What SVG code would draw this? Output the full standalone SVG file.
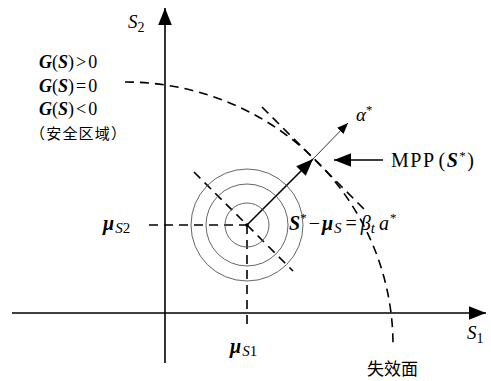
<svg xmlns="http://www.w3.org/2000/svg" width="491" height="381" viewBox="0 0 491 381">
<style>
.ax{stroke:#000;stroke-width:1.6;fill:none}
.dash{stroke:#000;stroke-width:1.6;fill:none;stroke-dasharray:9,6}
.thin{stroke:#555;stroke-width:0.9;fill:none}
.t{font-family:"Liberation Serif",serif;font-size:18px;fill:#000}
.i{font-style:italic}
.b{font-weight:bold;font-style:italic}
.cjk{font-family:"Liberation Serif","Noto Sans CJK SC",serif;font-size:15px;fill:#000}
</style>
<defs>
<marker id="ah" viewBox="0 0 10 10" refX="10" refY="5" markerWidth="11" markerHeight="11" markerUnits="userSpaceOnUse" orient="auto">
<path d="M0,1 L10,5 L0,9 Z" fill="#000"/>
</marker>
<marker id="ahL" viewBox="0 0 10 10" refX="10" refY="5" markerWidth="17" markerHeight="17" markerUnits="userSpaceOnUse" orient="auto">
<path d="M0,1 L10,5 L0,9 Z" fill="#000"/>
</marker>
</defs>
<g id="connectors">
<line id="s2-axis" class="ax" x1="165" y1="363" x2="165" y2="8" marker-end="url(#ahL)"/>
<line id="s1-axis" class="ax" x1="12" y1="313" x2="486" y2="313" marker-end="url(#ahL)"/>
<path id="limit" class="dash" d="M125,82 A268,263 0 0 1 393,348"/>
<line id="tangent" class="dash" x1="262" y1="107" x2="365" y2="210"/>
<line id="diag" class="dash" x1="194" y1="172" x2="293" y2="271"/>
<line id="h-mu" class="dash" x1="149" y1="225" x2="247" y2="225"/>
<line id="v-mu" class="dash" x1="247" y1="225" x2="247" y2="326"/>
<line id="beta" class="ax" x1="247" y1="225" x2="313" y2="159" marker-end="url(#ahL)"/>
<line id="alpha" stroke="#000" stroke-width="0.8" x1="313" y1="159" x2="348" y2="123" marker-end="url(#ah)"/>
<line id="mpp-arrow" class="ax" x1="383" y1="160" x2="334" y2="160" marker-end="url(#ahL)"/>
</g>
<g id="pdf">
<circle class="thin" cx="247" cy="225" r="22"/>
<circle class="thin" cx="247" cy="225" r="41"/>
<circle class="thin" cx="247" cy="225" r="56"/>
<circle cx="247" cy="225" r="1.8" fill="#000"/>
</g>
<g id="labels">
<text class="t i" x="128" y="28" style="font-size:19px">S<tspan font-style="normal" font-size="14" dy="4">2</tspan></text>
<text class="t" x="39" y="68"><tspan class="b">G</tspan>(<tspan class="b">S</tspan>)<tspan dx="2">&gt;</tspan><tspan dx="2">0</tspan></text>
<text class="t" x="39" y="92"><tspan class="b">G</tspan>(<tspan class="b">S</tspan>)<tspan dx="2">=</tspan><tspan dx="2">0</tspan></text>
<text class="t" x="39" y="115"><tspan class="b">G</tspan>(<tspan class="b">S</tspan>)<tspan dx="2">&lt;</tspan><tspan dx="2">0</tspan></text>
<text class="cjk" x="30" y="139" textLength="96" lengthAdjust="spacing">（安全区域）</text>
<text class="t" x="103" y="230" style="font-size:20px"><tspan class="b">μ</tspan><tspan class="i" font-size="15" dy="3" dx="1">S</tspan><tspan font-size="15">2</tspan></text>
<text class="t" x="230" y="353" style="font-size:20px"><tspan class="b">μ</tspan><tspan class="i" font-size="15" dy="3" dx="1">S</tspan><tspan font-size="15">1</tspan></text>
<text class="t i" x="467" y="339" style="font-size:19px">S<tspan font-style="normal" font-size="14" dy="4">1</tspan></text>
<text class="cjk" x="367" y="375" style="font-size:17px">失效面</text>
<text class="t i" x="356" y="121" style="font-size:19px">α<tspan font-style="normal" font-size="13" dy="-7">*</tspan></text>
<text class="t" x="391" y="167" style="font-size:20px;letter-spacing:1.5px">MPP<tspan dx="3">(</tspan><tspan class="b">S</tspan><tspan font-size="13" dy="-7">*</tspan><tspan dy="7">)</tspan></text>
<text class="t" x="289" y="230" style="font-size:20px"><tspan class="b">S</tspan><tspan font-size="13" dy="-8">*</tspan><tspan dy="8" dx="2">−</tspan><tspan class="b" dx="2">μ</tspan><tspan class="i" font-size="15" dy="3" dx="1">S</tspan><tspan dy="-3" dx="4">=</tspan><tspan class="i" dx="4">β</tspan><tspan class="i" font-size="15" dy="3">t</tspan><tspan class="i" dy="-3" dx="4">a</tspan><tspan font-size="13" dy="-8" dx="1">*</tspan></text>
</g>
</svg>
